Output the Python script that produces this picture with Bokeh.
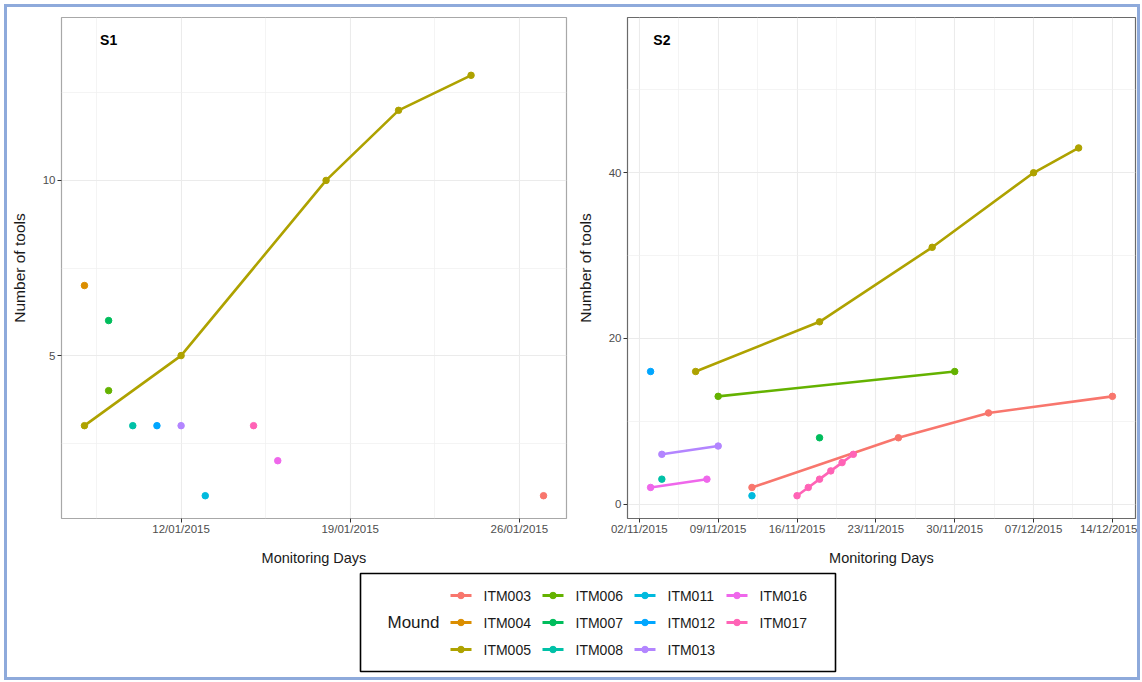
import pandas as pd
from bokeh.plotting import figure
from bokeh.models import Range1d, FixedTicker, DatetimeTickFormatter
from bokeh.layouts import row, column
from bokeh.embed import file_html
from bokeh.resources import INLINE
from bokeh.core.properties import value

# ---------------- data ----------------
mounds = ["ITM003", "ITM004", "ITM005", "ITM006", "ITM007", "ITM008",
          "ITM011", "ITM012", "ITM013", "ITM016", "ITM017"]
colors = ["#F8766D", "#DB8E00", "#AEA200", "#64B200", "#00BD5C", "#00C1A7",
          "#00BADE", "#00A6FF", "#B385FF", "#EF67EB", "#FF63B6"]

# Site S1 (January 2015)
s1_dates = {
    "ITM003": ["2015-01-27"],
    "ITM004": ["2015-01-08"],
    "ITM005": ["2015-01-08", "2015-01-12", "2015-01-18", "2015-01-21", "2015-01-24"],
    "ITM006": ["2015-01-09"],
    "ITM007": ["2015-01-09"],
    "ITM008": ["2015-01-10"],
    "ITM011": ["2015-01-13"],
    "ITM012": ["2015-01-11"],
    "ITM013": ["2015-01-12"],
    "ITM016": ["2015-01-16"],
    "ITM017": ["2015-01-15"],
}
s1_tools = {
    "ITM003": [1],
    "ITM004": [7],
    "ITM005": [3, 5, 10, 12, 13],
    "ITM006": [4],
    "ITM007": [6],
    "ITM008": [3],
    "ITM011": [1],
    "ITM012": [3],
    "ITM013": [3],
    "ITM016": [2],
    "ITM017": [3],
}
s1_tick_dates = ["2015-01-12", "2015-01-19", "2015-01-26"]
s1_y_ticks = [5, 10]
s1_label, s1_label_date, s1_label_y = "S1", "2015-01-09", 14

# Site S2 (November - December 2015)
s2_dates = {
    "ITM003": ["2015-11-12", "2015-11-25", "2015-12-03", "2015-12-14"],
    "ITM005": ["2015-11-07", "2015-11-18", "2015-11-28", "2015-12-07", "2015-12-11"],
    "ITM006": ["2015-11-09", "2015-11-30"],
    "ITM007": ["2015-11-18"],
    "ITM008": ["2015-11-04"],
    "ITM011": ["2015-11-12"],
    "ITM012": ["2015-11-03"],
    "ITM013": ["2015-11-04", "2015-11-09"],
    "ITM016": ["2015-11-03", "2015-11-08"],
    "ITM017": ["2015-11-16", "2015-11-17", "2015-11-18", "2015-11-19", "2015-11-20", "2015-11-21"],
}
s2_tools = {
    "ITM003": [2, 8, 11, 13],
    "ITM005": [16, 22, 31, 40, 43],
    "ITM006": [13, 16],
    "ITM007": [8],
    "ITM008": [3],
    "ITM011": [1],
    "ITM012": [16],
    "ITM013": [6, 7],
    "ITM016": [2, 3],
    "ITM017": [1, 2, 3, 4, 5, 6],
}
s2_tick_dates = ["2015-11-02", "2015-11-09", "2015-11-16", "2015-11-23",
                 "2015-11-30", "2015-12-07", "2015-12-14"]
s2_y_ticks = [0, 20, 40]
s2_label, s2_label_date, s2_label_y = "S2", "2015-11-04", 56

FONT = "Liberation Sans"


def to_ms(dates):
    return [float(pd.Timestamp(d).value // 10**6) for d in dates]


def midpoints(ticks):
    step = ticks[1] - ticks[0]
    ext = [ticks[0] - step] + list(ticks) + [ticks[-1] + step]
    return [(a + b) / 2 for a, b in zip(ext[:-1], ext[1:])]


def make_panel(dates, tools, tick_dates, y_ticks, label, label_date, label_y,
               width, mbl, mbr, outline):
    xs_all = [x for m in dates for x in to_ms(dates[m])] + to_ms([label_date])
    ys_all = [v for m in tools for v in tools[m]] + [label_y]
    x0, x1 = min(xs_all), max(xs_all)
    y0, y1 = min(ys_all), max(ys_all)
    px, py = 0.05 * (x1 - x0), 0.05 * (y1 - y0)
    p = figure(width=width, height=563, x_axis_type="datetime",
               x_range=Range1d(x0 - px, x1 + px), y_range=Range1d(y0 - py, y1 + py),
               output_backend="svg", toolbar_location=None,
               min_border_left=mbl, min_border_right=mbr,
               min_border_top=10, min_border_bottom=52)
    xt = to_ms(tick_dates)
    p.xaxis.ticker = FixedTicker(ticks=xt, minor_ticks=midpoints(xt))
    p.yaxis.ticker = FixedTicker(ticks=y_ticks, minor_ticks=midpoints(y_ticks))
    fmt = "%d/%m/%Y"
    p.xaxis.formatter = DatetimeTickFormatter(days=fmt, months=fmt, years=fmt,
                                              hours=fmt, minutes=fmt, seconds=fmt,
                                              milliseconds=fmt, microseconds=fmt,
                                              hourmin=fmt, minsec=fmt)
    p.xaxis.axis_label = "Monitoring Days"
    p.yaxis.axis_label = "Number of tools"
    for ax in (p.xaxis, p.yaxis):
        ax.axis_line_color = None
        ax.major_tick_in = 0
        ax.major_tick_out = 4
        ax.major_tick_line_color = "#333333"
        ax.major_tick_line_width = 1
        ax.minor_tick_line_color = None
        ax.major_label_text_font = FONT
        ax.major_label_text_font_size = "11.5px"
        ax.major_label_text_color = "#4D4D4D"
        ax.axis_label_text_font = FONT
        ax.axis_label_text_font_style = "normal"
        ax.axis_label_text_color = "#1a1a1a"
    p.xaxis.axis_label_text_font_size = "14.5px"
    p.yaxis.axis_label_text_font_size = "15.5px"
    p.xaxis.major_label_standoff = 0
    p.xaxis.axis_label_standoff = 12
    p.yaxis.major_label_standoff = 2
    p.yaxis.axis_label_standoff = 12
    for g in (p.xgrid, p.ygrid):
        g.grid_line_color = "#EBEBEB"
        g.grid_line_width = 1.1
        g.minor_grid_line_color = "#EFEFEF"
        g.minor_grid_line_width = 0.7
    p.outline_line_color = outline
    p.outline_line_width = 1.2
    p.background_fill_color = "white"
    p.border_fill_color = "white"

    for m, c in zip(mounds, colors):
        if m not in dates:
            continue
        xs, ys = to_ms(dates[m]), tools[m]
        if len(xs) > 1:
            p.line(xs, ys, line_color=c, line_width=2.6)
    for m, c in zip(mounds, colors):
        if m not in dates:
            continue
        p.scatter(to_ms(dates[m]), tools[m], size=6.5, fill_color=c, line_color=c)

    p.text(x=to_ms([label_date]), y=[label_y], text=[label],
           text_font=value(FONT), text_font_style="bold", text_font_size="14px",
           text_align="center", text_baseline="middle", text_color="black")
    return p


p1 = make_panel(s1_dates, s1_tools, s1_tick_dates, s1_y_ticks,
                s1_label, s1_label_date, s1_label_y, 566, 50, 7, "#A8A8A8")
p2 = make_panel(s2_dates, s2_tools, s2_tick_dates, s2_y_ticks,
                s2_label, s2_label_date, s2_label_y, 564, 54, 2, "#6A6A6A")

# ---------------- legend ----------------
LW, LH = 1130, 107
leg = figure(width=LW, height=LH, x_range=Range1d(0, LW), y_range=Range1d(LH, 0),
             output_backend="svg", toolbar_location=None,
             x_axis_location=None, y_axis_location=None, min_border=0)
leg.grid.visible = False
leg.outline_line_color = None
leg.quad(left=[353], right=[828], top=[3], bottom=[101], fill_color=None,
         line_color="black", line_width=1.6)
leg.text(x=[380], y=[52], text=["Mound"], text_font=value(FONT),
         text_font_size="17px", text_align="left", text_baseline="middle",
         text_color="#1a1a1a")
gx, gy = [], []
for i, m in enumerate(mounds):
    col, r = i // 3, i % 3
    gx.append(443 + 92 * col)
    gy.append(25 + 27 * r)
leg.segment(x0=gx, y0=gy, x1=[g + 21 for g in gx], y1=gy, line_color=colors,
            line_width=3)
leg.scatter(x=[g + 10.5 for g in gx], y=gy, size=6.5, fill_color=colors,
            line_color=colors)
leg.text(x=[g + 33 for g in gx], y=gy, text=mounds, text_font=value(FONT),
         text_font_size="14px", text_align="left", text_baseline="middle",
         text_color="#1a1a1a")

layout = column(row(p1, p2), leg,
                styles={"border": "3px solid #8EAADB", "margin": "4px 0 0 4px"})

open("out.html", "w").write(file_html(layout, INLINE))
